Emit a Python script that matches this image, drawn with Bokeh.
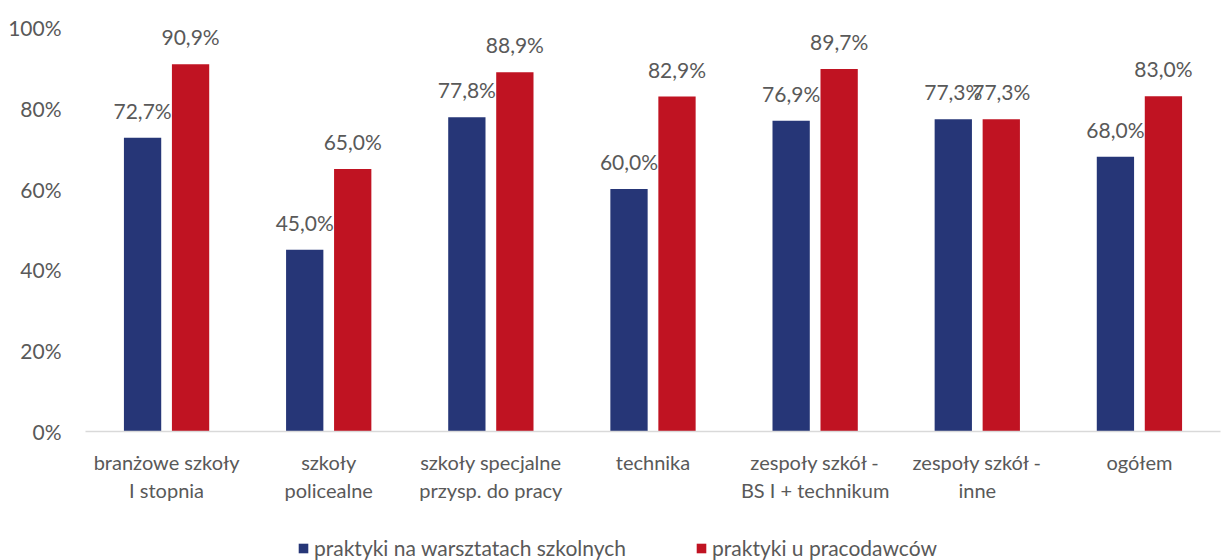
from bokeh.plotting import figure
from bokeh.layouts import column
from bokeh.models import ColumnDataSource, Legend, LegendItem, PrintfTickFormatter, FixedTicker, Range1d
from bokeh.core.properties import value
from bokeh.embed import file_html
from bokeh.resources import INLINE

categories = ["branżowe szkoły\nI stopnia", "szkoły\npolicealne", "szkoły specjalne\nprzysp. do pracy",
              "technika", "zespoły szkół -\nBS I + technikum", "zespoły szkół -\ninne", "ogółem"]
warsztaty = [72.7, 45.0, 77.8, 60.0, 76.9, 77.3, 68.0]
pracodawcy = [90.9, 65.0, 88.9, 82.9, 89.7, 77.3, 83.0]
series_names = ["praktyki na warsztatach szkolnych", "praktyki u pracodawców"]
y_ticks = [0, 20, 40, 60, 80, 100]

BLUE = "#263677"
RED = "#C01322"
GREY = "#595959"
FONT = "Lato"

idx = list(range(len(categories)))
def fmt(v):
    return f"{v:.1f}".replace(".", ",") + "%"

src_b = ColumnDataSource(dict(x=[i - 0.148 for i in idx], y=warsztaty, lab=[fmt(v) for v in warsztaty]))
src_r = ColumnDataSource(dict(x=[i + 0.148 for i in idx], y=pracodawcy, lab=[fmt(v) for v in pracodawcy]))

p = figure(width=1222, height=510, output_backend="svg", toolbar_location=None,
           x_range=Range1d(-0.5, len(categories) - 0.5), y_range=Range1d(0, 100),
           min_border_left=85, min_border_right=2, min_border_top=27, min_border_bottom=79)
p.outline_line_color = None
p.xgrid.grid_line_color = None
p.ygrid.grid_line_color = None

rb = p.vbar(x="x", top="y", width=0.23, source=src_b, fill_color=BLUE, line_color=None)
rr = p.vbar(x="x", top="y", width=0.23, source=src_r, fill_color=RED, line_color=None)

for s in (src_b, src_r):
    p.text(x="x", y="y", text="lab", source=s, text_align="center", text_baseline="bottom",
           y_offset=-15, text_font=value(FONT), text_font_size="21px", text_color=GREY)

p.xaxis.ticker = FixedTicker(ticks=idx)
p.xaxis.major_label_overrides = {i: c for i, c in zip(idx, categories)}
p.xaxis.major_tick_line_color = None
p.xaxis.minor_tick_line_color = None
p.xaxis.axis_line_color = "#d9d9d9"
p.xaxis.axis_line_width = 1.5
p.xaxis.major_label_text_font = FONT
p.xaxis.major_label_text_font_size = "20px"
p.xaxis.major_label_text_color = GREY
p.xaxis.major_label_standoff = 12

p.yaxis.ticker = FixedTicker(ticks=y_ticks)
p.yaxis.formatter = PrintfTickFormatter(format="%d%%")
p.yaxis.axis_line_color = None
p.yaxis.major_tick_line_color = None
p.yaxis.minor_tick_line_color = None
p.yaxis.major_label_text_font = FONT
p.yaxis.major_label_text_font_size = "21px"
p.yaxis.major_label_text_color = GREY
p.yaxis.major_label_standoff = 18

# legend strip below the chart (its bars sit outside the strip's visible range)
pl = figure(width=1222, height=50, output_backend="svg", toolbar_location=None,
            x_axis_type=None, y_axis_type=None,
            x_range=Range1d(-0.5, len(categories) - 0.5), y_range=Range1d(1000, 1001),
            min_border_left=0, min_border_right=0, min_border_top=0, min_border_bottom=0)
pl.grid.visible = False
pl.outline_line_color = None
lb = pl.vbar(x="x", top="y", width=0.23, source=src_b, fill_color=BLUE, line_color=None)
lr = pl.vbar(x="x", top="y", width=0.23, source=src_r, fill_color=RED, line_color=None)

legend = Legend(items=[LegendItem(label=series_names[0], renderers=[lb]),
                       LegendItem(label=series_names[1], renderers=[lr])],
                orientation="horizontal", location=(212, 0),
                label_text_font=FONT, label_text_font_size="21px", label_text_color=GREY,
                glyph_width=12, glyph_height=12, spacing=69, label_standoff=5,
                border_line_color=None, background_fill_alpha=0, margin=0, padding=2)
pl.add_layout(legend, "center")

layout = column(p, pl, spacing=0)
open("out.html", "w").write(file_html(layout, INLINE))
